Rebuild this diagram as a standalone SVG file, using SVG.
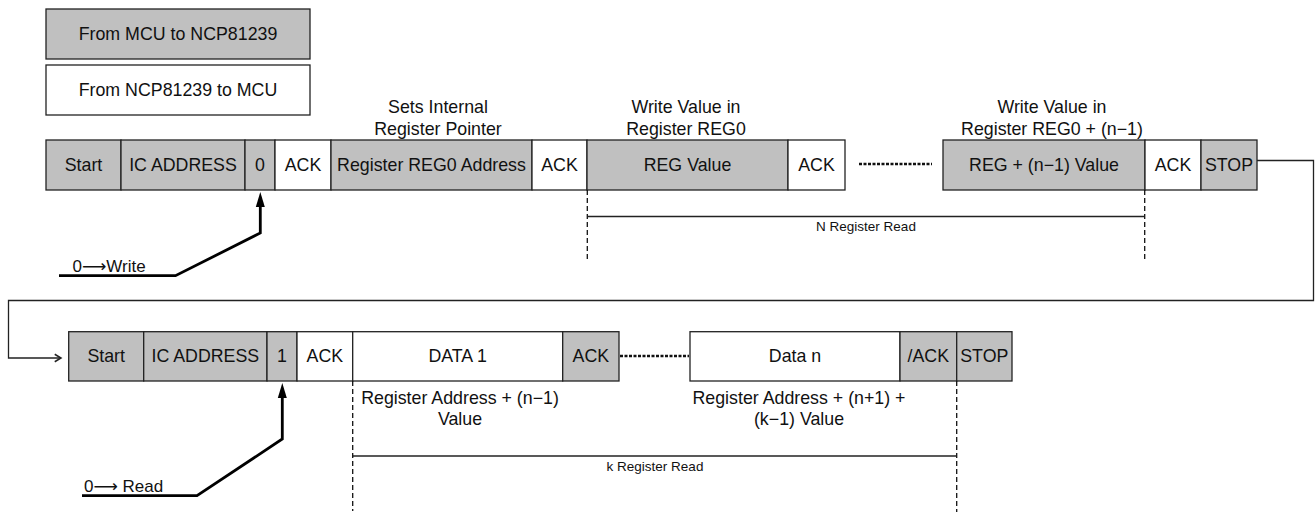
<svg xmlns="http://www.w3.org/2000/svg" width="1315" height="514" viewBox="0 0 1315 514">
<style>
  text { font-family: "Liberation Sans", "DejaVu Sans", Arial, sans-serif; fill: #111; }
  .t { font-size: 17.8px; text-anchor: middle; }
  .s { font-size: 13.5px; text-anchor: middle; }
  .g { fill: #c0c0c0; stroke: #222; stroke-width: 1.3; }
  .w { fill: #ffffff; stroke: #222; stroke-width: 1.3; }
  .dash { stroke: #111; stroke-width: 1.3; stroke-dasharray: 5 3; fill: none; }
  .dot { stroke: #111; stroke-width: 2.5; stroke-dasharray: 3 1.5; fill: none; }
  .thin { stroke: #222; stroke-width: 1.3; fill: none; }
  .thick { stroke: #000; stroke-width: 2.8; fill: none; }
</style>
<defs>
  <marker id="openHead" markerWidth="10" markerHeight="10" refX="6" refY="4" viewBox="0 0 8 8" orient="auto" markerUnits="userSpaceOnUse">
    <path d="M1,1 L6,4 L1,7" fill="none" stroke="#222" stroke-width="1.2"/>
  </marker>
</defs>

<!-- Legend -->
<g id="legend-mcu-to-ncp">
  <rect class="g" x="46" y="9" width="264" height="50"/>
  <text class="t" x="178" y="40">From MCU to NCP81239</text>
</g>
<g id="legend-ncp-to-mcu">
  <rect class="w" x="46" y="65" width="264" height="50"/>
  <text class="t" x="178" y="96">From NCP81239 to MCU</text>
</g>

<!-- Row 1 -->
<g id="r1-start"><rect class="g" x="46" y="140" width="75" height="50"/><text class="t" x="83.5" y="171">Start</text></g>
<g id="r1-icaddr"><rect class="g" x="121" y="140" width="124" height="50"/><text class="t" x="183" y="171">IC ADDRESS</text></g>
<g id="r1-zero"><rect class="g" x="245" y="140" width="30" height="50"/><text class="t" x="260" y="171">0</text></g>
<g id="r1-ack1"><rect class="w" x="275" y="140" width="56" height="50"/><text class="t" x="303" y="171">ACK</text></g>
<g id="r1-regaddr"><rect class="g" x="331" y="140" width="201" height="50"/><text class="t" x="431.5" y="171">Register REG0 Address</text></g>
<g id="r1-ack2"><rect class="w" x="532" y="140" width="55" height="50"/><text class="t" x="559.5" y="171">ACK</text></g>
<g id="r1-regval"><rect class="g" x="587" y="140" width="201" height="50"/><text class="t" x="687.5" y="171">REG Value</text></g>
<g id="r1-ack3"><rect class="w" x="788" y="140" width="57" height="50"/><text class="t" x="816.5" y="171">ACK</text></g>
<g id="r1-regn"><rect class="g" x="943" y="140" width="202" height="50"/><text class="t" x="1044" y="171">REG + (n−1) Value</text></g>
<g id="r1-ack4"><rect class="w" x="1145" y="140" width="56" height="50"/><text class="t" x="1173" y="171">ACK</text></g>
<g id="r1-stop"><rect class="g" x="1201" y="140" width="56" height="50"/><text class="t" x="1229" y="171">STOP</text></g>

<g id="r1-labels">
  <text class="t" x="438" y="113">Sets Internal</text>
  <text class="t" x="438" y="135">Register Pointer</text>
  <text class="t" x="686" y="113">Write Value in</text>
  <text class="t" x="686" y="135">Register REG0</text>
  <text class="t" x="1052" y="113">Write Value in</text>
  <text class="t" x="1052" y="135">Register REG0 + (n−1)</text>
  <text class="s" x="866" y="231">N Register Read</text>
  <text style="font-size:17px" x="72.5" y="272">0⟶Write</text>
</g>

<!-- Row 2 -->
<g id="r2-start"><rect class="g" x="68.7" y="331.7" width="75" height="49.3"/><text class="t" x="106.2" y="362">Start</text></g>
<g id="r2-icaddr"><rect class="g" x="143.7" y="331.7" width="123.3" height="49.3"/><text class="t" x="205.3" y="362">IC ADDRESS</text></g>
<g id="r2-one"><rect class="g" x="267" y="331.7" width="30" height="49.3"/><text class="t" x="282" y="362">1</text></g>
<g id="r2-ack1"><rect class="w" x="297" y="331.7" width="55.7" height="49.3"/><text class="t" x="324.8" y="362">ACK</text></g>
<g id="r2-data1"><rect class="w" x="352.7" y="331.7" width="210" height="49.3"/><text class="t" x="457.7" y="362">DATA 1</text></g>
<g id="r2-ack2"><rect class="g" x="562.7" y="331.7" width="56.3" height="49.3"/><text class="t" x="590.8" y="362">ACK</text></g>
<g id="r2-datan"><rect class="w" x="690" y="331.7" width="210" height="49.3"/><text class="t" x="795" y="362">Data n</text></g>
<g id="r2-nack"><rect class="g" x="900" y="331.7" width="56.7" height="49.3"/><text class="t" x="928.3" y="362">/ACK</text></g>
<g id="r2-stop"><rect class="g" x="956.7" y="331.7" width="55.3" height="49.3"/><text class="t" x="984.3" y="362">STOP</text></g>

<g id="r2-labels">
  <text class="t" x="460" y="404">Register Address + (n−1)</text>
  <text class="t" x="460" y="425">Value</text>
  <text class="t" x="799" y="404">Register Address + (n+1) +</text>
  <text class="t" x="799" y="425">(k−1) Value</text>
  <text class="s" x="655" y="471">k Register Read</text>
  <text style="font-size:17px" x="84" y="492">0⟶ Read</text>
</g>

<!-- Connectors -->
<g id="connectors">
  <line class="dot" x1="859" y1="164" x2="932" y2="164"/>
  <line class="dot" x1="620" y1="356" x2="689" y2="356"/>

  <line class="dash" x1="587.3" y1="190" x2="587.3" y2="261"/>
  <line class="dash" x1="1144.7" y1="190" x2="1144.7" y2="261"/>
  <line class="thin" x1="587.3" y1="216.5" x2="1144.7" y2="216.5"/>

  <line class="dash" x1="352.7" y1="381" x2="352.7" y2="511"/>
  <line class="dash" x1="956.7" y1="381" x2="956.7" y2="512"/>
  <line class="thin" x1="352.7" y1="456" x2="956.7" y2="456"/>

  <path class="thin" d="M1257,160.5 H1313.5 V300.5 H8.5 V358 H61" marker-end="url(#openHead)"/>

  <path class="thick" d="M59,275.7 H175.5 L260.3,233 V206"/>
  <path d="M260.3,192 L255.8,207 L264.8,207 Z" fill="#000"/>
  <path class="thick" d="M82,495.7 H197 L282.3,439 V397"/>
  <path d="M282.3,383 L277.8,398 L286.8,398 Z" fill="#000"/>
</g>
</svg>
